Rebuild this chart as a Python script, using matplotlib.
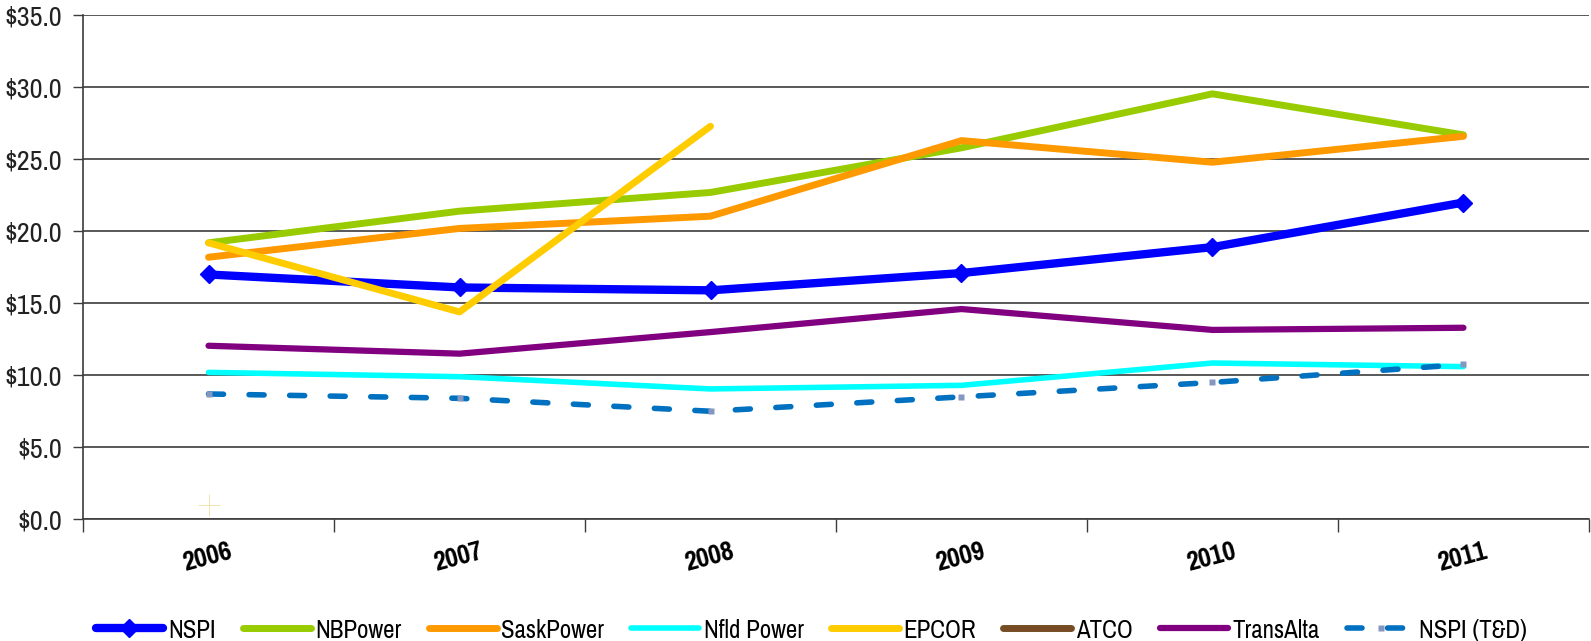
import matplotlib
matplotlib.use('Agg')
import matplotlib.pyplot as plt
import numpy as np

years = ['2006', '2007', '2008', '2009', '2010', '2011']
nspi = [17.0, 16.1, 15.9, 17.1, 18.9, 22.0]
nbpower = [19.2, 21.4, 22.7, 25.8, 29.55, 26.7]
saskpower = [18.2, 20.2, 21.05, 26.3, 24.8, 26.6]
nfld_power = [10.2, 9.9, 9.05, 9.3, 10.85, 10.6]
epcor = [19.2, 14.4, 27.3, np.nan, np.nan, np.nan]
atco = [np.nan] * 6
transalta = [12.05, 11.5, 13.0, 14.6, 13.15, 13.3]
nspi_td = [8.7, 8.4, 7.5, 8.5, 9.5, 10.75]
stray_mark = [1.0]  # faint "+" left in the 2006 slot

narrow = ['Pragati Narrow', 'Liberation Sans', 'DejaVu Sans']

fig = plt.figure(figsize=(15.91, 6.41), dpi=100)
ax = fig.add_axes([0.0522, 0.19, 0.9465, 0.786])

x = np.arange(len(years)) + 0.5

ax.plot(x, nspi, color='#0000FF', lw=6, marker='D', ms=9.5, solid_capstyle='round', label='NSPI')
ax.plot(x, nbpower, color='#99CC00', lw=5, solid_capstyle='round', label='NBPower')
ax.plot(x, saskpower, color='#FF9900', lw=5, solid_capstyle='round', label='SaskPower')
ax.plot(x, nfld_power, color='#00FFFF', lw=4, solid_capstyle='round', label='Nfld Power')
ax.plot(x, epcor, color='#FFCC00', lw=5, solid_capstyle='round', label='EPCOR')
ax.plot(x, atco, color='#754C24', lw=5, solid_capstyle='round', label='ATCO')
ax.plot(x, transalta, color='#800080', lw=4.5, solid_capstyle='round', label='TransAlta')
ax.plot(x, nspi_td, color='#0070C0', lw=4, ls=(0, (2.7, 4.6)), dash_capstyle='round',
        marker='s', ms=5, mfc='#8497C0', mec='none', label='NSPI (T&D)')
ax.plot(x[:1], stray_mark, ls='none', marker='+', ms=16, mew=0.7, color='#F3E3B0')

ax.set_xlim(0, len(years))
ax.set_ylim(0, 35)
ax.set_yticks(np.arange(0, 36, 5))
ax.set_yticklabels(['$%.1f' % v for v in np.arange(0, 36, 5)], family=narrow, fontsize=22, color='#222222')
ax.yaxis.grid(True, color='#3c3c3c', lw=1.2)
ax.set_axisbelow(True)

ax.set_xticks(np.arange(0, len(years) + 1))
ax.set_xticklabels([])
# rotated year labels end just right of each category centre
ax.set_xticks(x + 0.09, minor=True)
ax.set_xticklabels(years, minor=True, rotation=15, rotation_mode='anchor', fontsize=21.5,
                   fontweight='bold', family=narrow, ha='right', va='center')
ax.tick_params(axis='x', which='major', length=9, width=1, color='#3c3c3c')
ax.tick_params(axis='x', which='minor', length=0, pad=23)
ax.tick_params(axis='y', length=7, width=1, color='#3c3c3c', pad=8)

for s in ['top', 'right']:
    ax.spines[s].set_visible(False)
for s in ['left', 'bottom']:
    ax.spines[s].set_color('#3c3c3c')
    ax.spines[s].set_linewidth(1.2)

fig.legend(loc='center', bbox_to_anchor=(0.51, 0.017), ncol=8, frameon=False,
           handlelength=2.5, handletextpad=0.18, columnspacing=1.0,
           prop={'family': narrow, 'size': 19.5})

fig.savefig('out.png', dpi=100)
